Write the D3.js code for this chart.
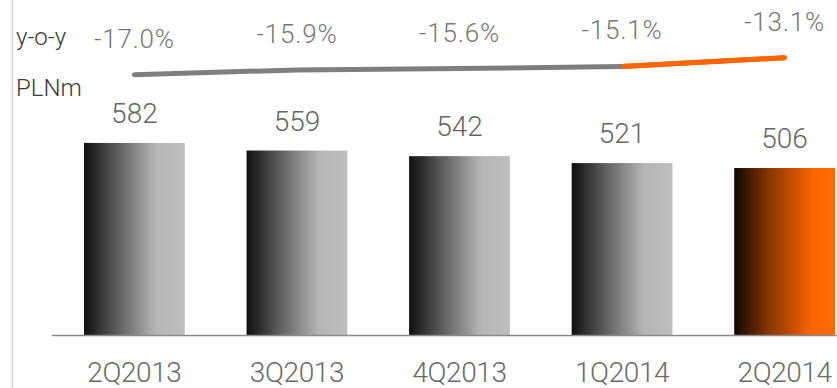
<!DOCTYPE html>
<html>
<head>
<meta charset="utf-8">
<script src="https://cdn.jsdelivr.net/npm/d3@7"></script>
<style>
  html, body { margin: 0; padding: 0; background: #fff; }
  svg { display: block; }
  text { font-family: Roboto, "Liberation Sans", sans-serif; font-weight: 300; }
</style>
</head>
<body>
<svg id="chart" width="837" height="388"></svg>
<script>
// Quarterly revenue (PLNm) and year-on-year change (%)
const quarters = ["2Q2013", "3Q2013", "4Q2013", "1Q2014", "2Q2014"];
const revenue = [582, 559, 542, 521, 506];
const yoyChange = [-17.0, -15.9, -15.6, -15.1, -13.1];
const unitLabel = "PLNm";
const changeLabel = "y-o-y";

const svg = d3.select("#chart");
const W = 837, H = 388;
const baseY = 335;

const x = d3.scaleBand().domain(quarters).range([84, 835]).paddingInner(0.38).paddingOuter(0);
const y = d3.scaleLinear().domain([0, 1000]).range([baseY, 5]);
const yPct = d3.scaleLinear().domain([-17.0, -13.1]).range([74.7, 57.7]);

// percentages shown with a plain hyphen for the sign
const fmtPct = v => d3.format(".1f")(v).replace("\u2212", "-") + "%";

const defs = svg.append("defs");
function barGradient(id, stops) {
  const g = defs.append("linearGradient").attr("id", id)
    .attr("x1", "0%").attr("x2", "100%").attr("y1", "0%").attr("y2", "0%");
  stops.forEach(([o, c]) => g.append("stop").attr("offset", o).attr("stop-color", c));
}
barGradient("gradGrey", [["0%", "#0f0f0f"], ["35%", "#636363"], ["72%", "#b6b6b6"], ["100%", "#bebebe"]]);
barGradient("gradOrange", [["0%", "#120600"], ["35%", "#8a3800"], ["78%", "#fb6500"], ["100%", "#ff6a00"]]);

// left frame line
svg.append("line")
  .attr("x1", 12.5).attr("x2", 12.5).attr("y1", 0).attr("y2", H)
  .attr("stroke", "#d4d4d4").attr("stroke-width", 1.5);

// bars
const last = quarters.length - 1;
svg.append("g").selectAll("rect")
  .data(quarters)
  .join("rect")
  .attr("x", d => x(d))
  .attr("width", x.bandwidth())
  .attr("y", (d, i) => y(revenue[i]))
  .attr("height", (d, i) => baseY - y(revenue[i]))
  .attr("fill", (d, i) => i === last ? "url(#gradOrange)" : "url(#gradGrey)");

// baseline axis
const xAxis = d3.axisBottom(x).tickSize(0).tickPadding(0);
const axisG = svg.append("g").attr("transform", `translate(0,${baseY})`).call(xAxis);
axisG.select(".domain").attr("d", `M52,0.5H${W}`).attr("stroke", "#8a8a8a").attr("stroke-width", 1.3);
axisG.selectAll(".tick text")
  .attr("y", 47).attr("dy", 0)
  .attr("font-size", 28).attr("fill", "#6a6a6a")
  .attr("font-family", "Roboto, sans-serif").attr("font-weight", 300)
  .attr("letter-spacing", -0.4);

// value labels
svg.append("g").selectAll("text")
  .data(quarters)
  .join("text")
  .attr("x", d => x(d) + x.bandwidth() / 2)
  .attr("y", (d, i) => y(revenue[i]) - 20)
  .attr("text-anchor", "middle")
  .attr("font-size", 28)
  .attr("fill", "#666")
  .text((d, i) => revenue[i]);

// y-o-y line: grey through 1Q2014, orange for the last segment
const pts = quarters.map((q, i) => [x(q) + x.bandwidth() / 2, yPct(yoyChange[i])]);
const line = d3.line();
svg.append("path")
  .attr("d", line(pts.slice(last - 1)))
  .attr("fill", "none").attr("stroke", "#ff6600").attr("stroke-width", 5)
  .attr("stroke-linecap", "round");
svg.append("path")
  .attr("d", line(pts.slice(0, last)))
  .attr("fill", "none").attr("stroke", "#7f7f7f").attr("stroke-width", 5)
  .attr("stroke-linecap", "round").attr("stroke-linejoin", "round");
// orange segment drawn again on top so it starts cleanly at 1Q2014
svg.append("path")
  .attr("d", line(pts.slice(last - 1)))
  .attr("fill", "none").attr("stroke", "#ff6600").attr("stroke-width", 5)
  .attr("stroke-linecap", "butt");

// percentage labels
svg.append("g").selectAll("text")
  .data(quarters)
  .join("text")
  .attr("x", (d, i) => pts[i][0])
  .attr("y", (d, i) => pts[i][1] - 27)
  .attr("text-anchor", "middle")
  .attr("font-size", 26)
  .attr("letter-spacing", 0.8)
  .attr("fill", "#777")
  .text((d, i) => fmtPct(yoyChange[i]));

// side captions
svg.append("text").attr("x", 16).attr("y", 45)
  .attr("font-size", 24).attr("fill", "#3a3a3a").attr("font-weight", 400)
  .text(changeLabel);
svg.append("text").attr("x", 16).attr("y", 96)
  .attr("font-size", 24).attr("fill", "#3a3a3a").attr("font-weight", 400)
  .text(unitLabel);
</script>
</body>
</html>
